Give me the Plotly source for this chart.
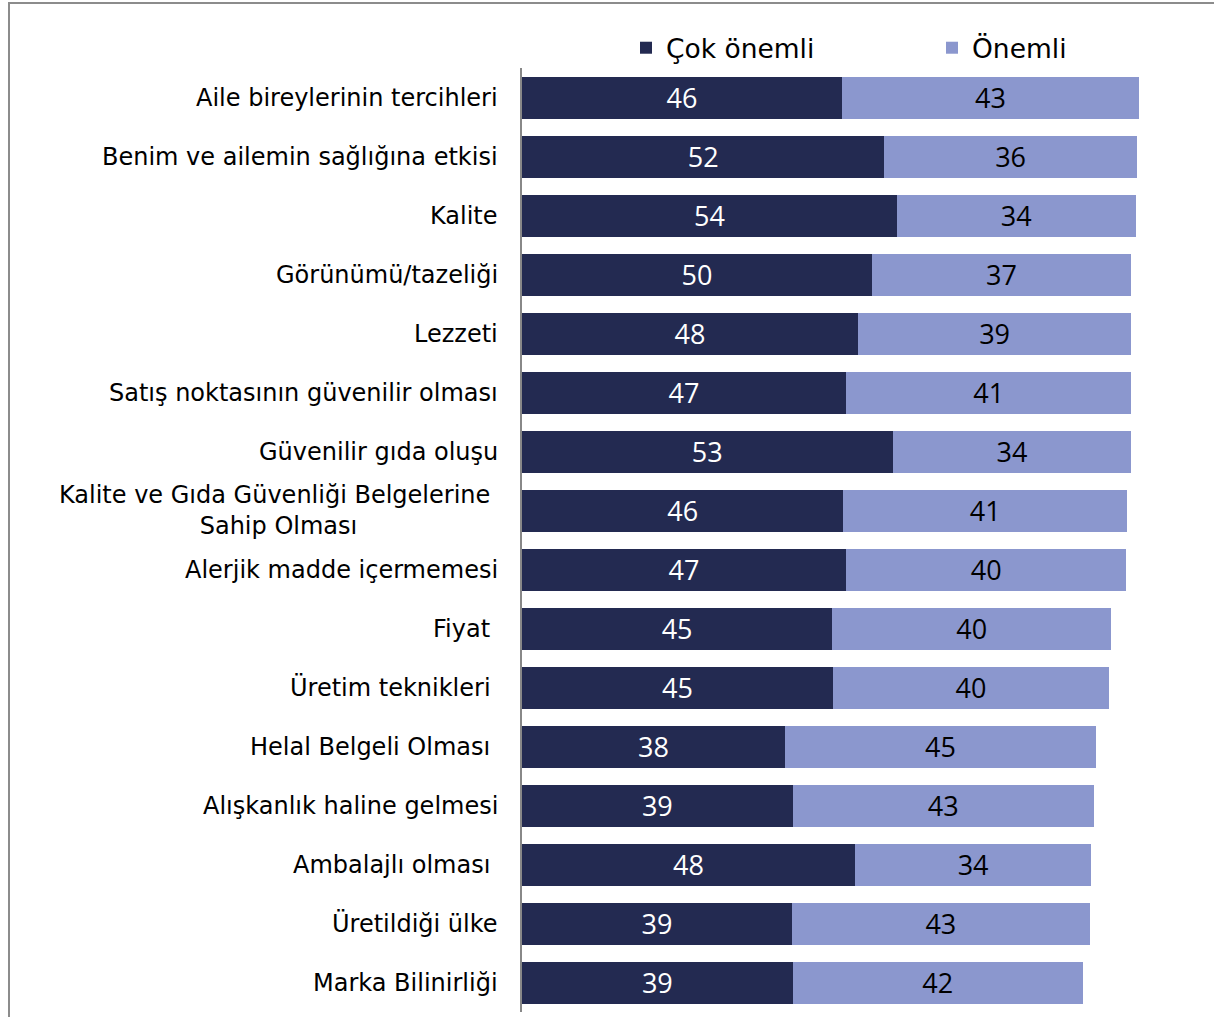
import plotly.graph_objects as go

categories = [
    "Aile bireylerinin tercihleri",
    "Benim ve ailemin sağlığına etkisi",
    "Kalite",
    "Görünümü/tazeliği",
    "Lezzeti",
    "Satış noktasının güvenilir olması",
    "Güvenilir gıda oluşu",
    "Kalite ve Gıda Güvenliği Belgelerine <br>Sahip Olması",
    "Alerjik madde içermemesi",
    "Fiyat ",
    "Üretim teknikleri ",
    "Helal Belgeli Olması ",
    "Alışkanlık haline gelmesi",
    "Ambalajlı olması ",
    "Üretildiği ülke",
    "Marka Bilinirliği",
]
# values (labels show rounded values)
cok_onemli = [46.1, 52.2, 54.0, 50.4, 48.4, 46.7, 53.4, 46.3, 46.7, 44.7, 44.8, 37.9, 39.0, 48.0, 38.9, 39.0]
onemli = [42.8, 36.4, 34.4, 37.4, 39.4, 41.1, 34.4, 40.9, 40.4, 40.2, 39.8, 44.8, 43.4, 34.0, 42.9, 41.8]
series_names = ["Çok önemli", "Önemli"]

DARK = "#232a51"
LIGHT = "#8b97ce"
W, H = 1214, 1017
ML, MR, MT, MB = 522, 10, 68, 5
PW = W - ML - MR
PH = H - MT - MB
XMAX = PW / 6.94

def px_x(px):
    return (px - ML) / PW

def px_y(py):
    return (H - MB - py) / PH

ids = list(range(len(categories)))

fig = go.Figure()
fig.add_trace(go.Bar(
    y=ids, x=cok_onemli, name=series_names[0], orientation="h",
    marker=dict(color=DARK, line=dict(width=0)),
    texttemplate="%{x:.0f}", textposition="inside", textangle=0,
    insidetextanchor="middle", constraintext="none",
    textfont=dict(family="Open Sans", size=27, color="white"),
    hoverinfo="skip", legend="legend",
))
fig.add_trace(go.Bar(
    y=ids, x=onemli, name=series_names[1], orientation="h",
    marker=dict(color=LIGHT, line=dict(width=0)),
    texttemplate="%{x:.0f}", textposition="inside", textangle=0,
    insidetextanchor="middle", constraintext="none",
    textfont=dict(family="Open Sans", size=27, color="black"),
    hoverinfo="skip", legend="legend2",
))

annotations = []
for i, lab in enumerate(categories):
    txt = lab.replace(" <br>", "\u00a0<br>")
    if txt.endswith(" "):
        txt = txt[:-1] + "\u00a0"
    annotations.append(dict(
        x=0, xref="paper", y=i, yref="y", text=txt, showarrow=False,
        xanchor="right", yanchor="middle", align="center", xshift=-22,
        font=dict(family="DejaVu Sans", size=24, color="black"),
    ))

legend_font = dict(family="DejaVu Sans", size=26.5, color="black")

fig.update_layout(
    width=W, height=H,
    margin=dict(l=ML, r=MR, t=MT, b=MB),
    barmode="stack", bargap=0.288,
    plot_bgcolor="white", paper_bgcolor="white",
    xaxis=dict(range=[0, XMAX], visible=False),
    yaxis=dict(range=[len(categories) - 0.5, -0.5], showticklabels=False,
               showgrid=False, zeroline=False, showline=True,
               linecolor="#888888", linewidth=2, ticks=""),
    showlegend=True,
    legend=dict(orientation="h", x=px_x(626), xanchor="left",
                y=px_y(48), yanchor="middle", font=legend_font,
                bgcolor="rgba(0,0,0,0)"),
    legend2=dict(orientation="h", x=px_x(932), xanchor="left",
                 y=px_y(48), yanchor="middle", font=legend_font,
                 bgcolor="rgba(0,0,0,0)"),
    annotations=annotations,
    shapes=[
        dict(type="line", xref="paper", yref="paper", x0=px_x(9), x1=px_x(W + 5),
             y0=px_y(3), y1=px_y(3), line=dict(color="#8c8c8c", width=2)),
        dict(type="line", xref="paper", yref="paper", x0=px_x(9), x1=px_x(9),
             y0=px_y(2), y1=px_y(H + 5), line=dict(color="#8c8c8c", width=2)),
    ],
)

fig.write_html(
    "out.html",
    config={"displayModeBar": False},
    post_script="document.body.style.margin='0';document.body.style.overflow='hidden';",
)
